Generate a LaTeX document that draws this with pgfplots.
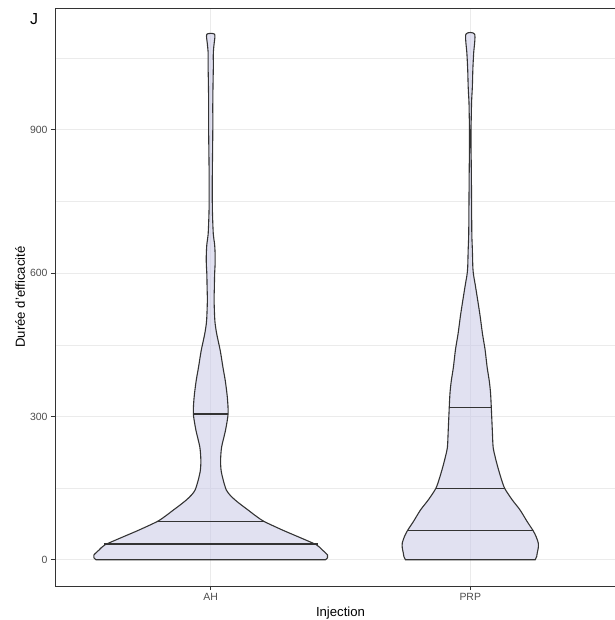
\documentclass[border=0pt]{standalone}
\usepackage{fontspec}
\setmainfont{Liberation Sans}
\usepackage{pgfplots}
\pgfplotsset{compat=1.18}
\definecolor{outl}{HTML}{333333}
\definecolor{gridc}{HTML}{EBEBEB}
\definecolor{tickc}{HTML}{4D4D4D}
\definecolor{vfill}{HTML}{C8C8E6}

\begin{document}
\begin{tikzpicture}
\begin{axis}[
  scale only axis, width=571bp, height=578bp,
  xmin=0.4, xmax=2.6, ymin=-55, ymax=1155,
  xtick={1,2}, xticklabels={AH,PRP},
  ytick={0,300,600,900}, minor ytick={150,450,750,1050},
  xtick pos=bottom, ytick pos=left,
  xmajorgrids, ymajorgrids, yminorgrids,
  major grid style={gridc, line width=0.9bp},
  minor grid style={gridc, line width=0.5bp},
  tick align=outside, major tick length=4bp, minor tick length=0pt,
  tick style={outl, line width=0.8bp},
  axis line style={outl, line width=0.8bp},
  ticklabel style={font=\fontsize{10.5}{12}\selectfont, text=tickc},
  /pgf/number format/assume math mode=true,
  xlabel={Injection}, ylabel={Durée d'efficacité},
  label style={font=\fontsize{13.2}{15}\selectfont},
  xlabel style={at={(axis description cs:0.5,0)}, anchor=base, yshift=-31bp},
  ylabel style={at={(axis description cs:0,0.5)}, anchor=center, yshift=35bp},
]
% AH violin (right side upward, left side downward)
\addplot[fill=vfill, fill opacity=0.55, draw=outl, line width=1.1bp, smooth, tension=0.45] coordinates {
(1.442,0) (1.450,4) (1.450,10) (1.431,20) (1.408,31) (1.350,45) (1.277,62) (1.206,80) (1.173,92) (1.144,104) (1.117,115) (1.094,125) (1.075,135) (1.060,146) (1.048,167) (1.040,187) (1.038,208) (1.042,236) (1.057,271) (1.067,306) (1.064,340) (1.056,375) (1.047,403) (1.037,437) (1.023,473) (1.016,500) (1.013,542) (1.014,570) (1.015,598) (1.017,620) (1.017,639) (1.015,660) (1.010,681) (1.007,720) (1.006,750) (1.006,800) (1.007,850) (1.008,900) (1.008,958) (1.009,1000) (1.010,1030) (1.010,1062) (1.013,1080) (1.015,1100)
(0.985,1100) (0.987,1080) (0.990,1062) (0.990,1030) (0.991,1000) (0.992,958) (0.992,900) (0.993,850) (0.994,800) (0.994,750) (0.993,720) (0.990,681) (0.985,660) (0.983,639) (0.983,620) (0.985,598) (0.986,570) (0.987,542) (0.984,500) (0.977,473) (0.963,437) (0.953,403) (0.944,375) (0.936,340) (0.933,306) (0.943,271) (0.958,236) (0.962,208) (0.960,187) (0.952,167) (0.940,146) (0.925,135) (0.906,125) (0.883,115) (0.856,104) (0.827,92) (0.794,80) (0.723,62) (0.650,45) (0.592,31) (0.569,20) (0.550,10) (0.550,4) (0.558,0)
} -- cycle;
% PRP violin
\addplot[fill=vfill, fill opacity=0.55, draw=outl, line width=1.1bp, smooth, tension=0.45] coordinates {
(2.250,0) (2.256,7) (2.258,14) (2.262,25) (2.262,35) (2.254,48) (2.242,61) (2.219,80) (2.192,104) (2.162,125) (2.133,149) (2.119,170) (2.106,194) (2.096,215) (2.088,236) (2.085,270) (2.081,319) (2.078,350) (2.073,375) (2.065,403) (2.057,440) (2.047,473) (2.038,510) (2.029,542) (2.019,576) (2.013,595) (2.010,611) (2.008,650) (2.006,681) (2.005,750) (2.004,819) (2.003,860) (2.003,903) (2.004,930) (2.005,958) (2.008,990) (2.010,1028) (2.013,1060) (2.017,1100)
(1.983,1100) (1.987,1060) (1.990,1028) (1.992,990) (1.995,958) (1.996,930) (1.997,903) (1.997,860) (1.996,819) (1.995,750) (1.994,681) (1.992,650) (1.990,611) (1.987,595) (1.981,576) (1.971,542) (1.962,510) (1.953,473) (1.943,440) (1.935,403) (1.927,375) (1.922,350) (1.919,319) (1.915,270) (1.912,236) (1.904,215) (1.894,194) (1.881,170) (1.867,149) (1.838,125) (1.808,104) (1.781,80) (1.758,61) (1.746,48) (1.738,35) (1.738,25) (1.742,14) (1.744,7) (1.750,0)
} -- cycle;
% quantile lines
\addplot[outl, line width=1.1bp] coordinates {(0.588,33) (1.412,33)};
\addplot[outl, line width=1.1bp] coordinates {(0.794,80) (1.206,80)};
\addplot[outl, line width=1.1bp] coordinates {(0.933,305) (1.067,305)};
\addplot[outl, line width=1.1bp] coordinates {(1.758,61) (2.242,61)};
\addplot[outl, line width=1.1bp] coordinates {(1.867,149) (2.133,149)};
\addplot[outl, line width=1.1bp] coordinates {(1.919,319) (2.081,319)};
\end{axis}
\node[anchor=base west, font=\fontsize{16}{18}\selectfont, inner sep=0pt] at ([xshift=-25bp, yshift=-17bp]current axis.north west) {J};
\pgfresetboundingbox
\path[use as bounding box] ([xshift=-55bp,yshift=-34bp]current axis.south west) rectangle ([xshift=-11bp,yshift=8bp]current axis.north east);
\end{tikzpicture}
\end{document}
